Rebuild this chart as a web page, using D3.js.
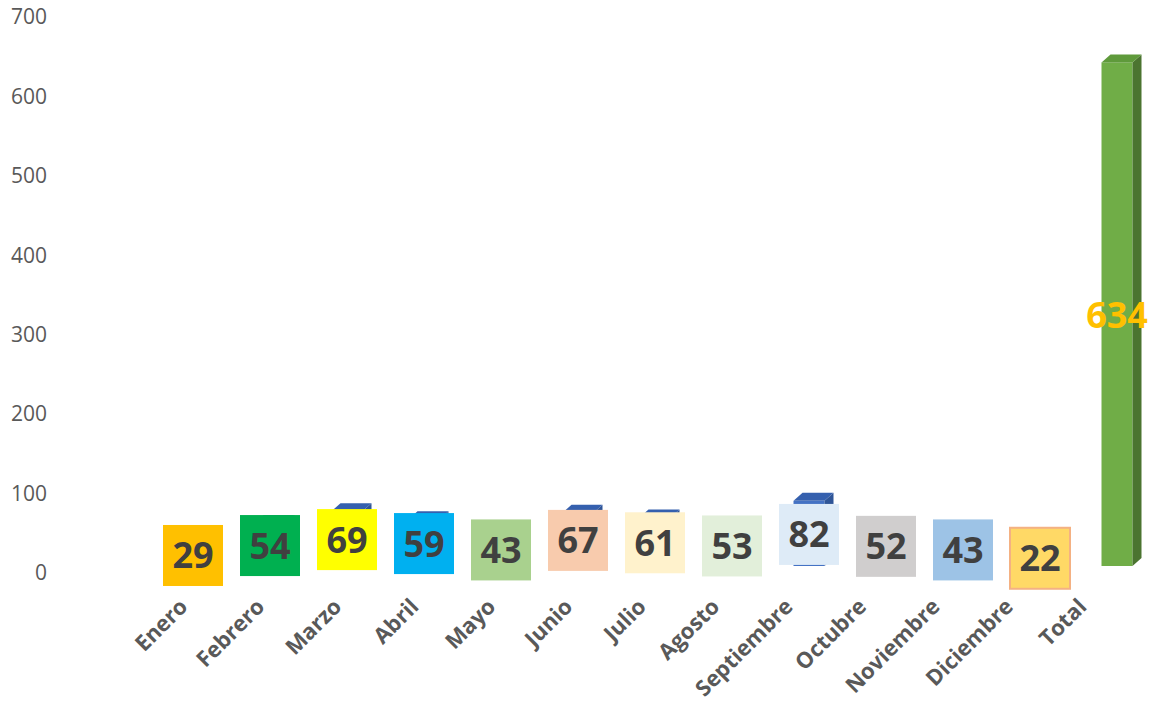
<!DOCTYPE html>
<html>
<head>
<meta charset="utf-8">
<script src="https://cdn.jsdelivr.net/npm/d3@7"></script>
<style>
  html, body { margin: 0; padding: 0; background: #ffffff; }
  svg { display: block; font-family: "Open Sans", "Noto Sans", sans-serif; }
</style>
</head>
<body>
<svg id="chart" width="1151" height="704"></svg>
<script>
// ---- data ----
const categories = ["Enero", "Febrero", "Marzo", "Abril", "Mayo", "Junio", "Julio",
  "Agosto", "Septiembre", "Octubre", "Noviembre", "Diciembre", "Total"];
const values = [29, 54, 69, 59, 43, 67, 61, 53, 82, 52, 43, 22, 634];
const labelFills = ["#FFC000", "#00B050", "#FFFF00", "#00B0F0", "#A9D18E", "#F8CBAD",
  "#FFF2CC", "#E2EFDA", "#DEEBF7", "#D0CECE", "#9DC3E6", "#FFD966", null];
const yTicks = [0, 100, 200, 300, 400, 500, 600, 700];

// ---- layout ----
const svg = d3.select("#chart");
const x = d3.scalePoint().domain(categories).range([193, 1117]);
const y = d3.scaleLinear().domain([0, 700]).range([566, 10]);
const barW = 31, depthX = 9, depthY = 8;
const boxW = 60, boxH = 61;

// category label positions (3D perspective shift)
const labelX = d3.scaleLinear()
  .domain([x(categories[0]), x("Junio"), x(categories[categories.length - 1])])
  .range([189, 574, 1088]);

// ---- y axis ----
const axis = d3.axisLeft(y).tickValues(yTicks).tickSize(0).tickPadding(0);
const gAxis = svg.append("g").attr("transform", "translate(47,7)").call(axis);
gAxis.select(".domain").remove();
gAxis.selectAll("text")
  .attr("fill", "#595959")
  .style("font-size", "21px")
  .style("font-family", "'Open Sans', sans-serif");

// ---- bars ----
const data = categories.map((c, i) => ({ c, v: values[i], fill: labelFills[i], total: c === "Total" }));

const bars = svg.append("g").selectAll("g").data(data).join("g");

bars.each(function (d) {
  const g = d3.select(this);
  const cx = x(d.c), x0 = cx - barW / 2, x1 = cx + barW / 2;
  const yt = y(d.v), yb = y(0);
  const front = d.total ? "#70AD47" : "#4472C4";
  const side = d.total ? "#4B7430" : "#2F5597";
  const top = d.total ? "#5F9A3B" : "#3560AE";
  g.append("rect").attr("x", x0).attr("y", yt).attr("width", barW).attr("height", yb - yt).attr("fill", front);
  g.append("polygon")
    .attr("points", [[x1, yt], [x1 + depthX, yt - depthY], [x1 + depthX, yb - depthY], [x1, yb]].join(" "))
    .attr("fill", side);
  g.append("polygon")
    .attr("points", [[x0, yt], [x0 + depthX, yt - depthY], [x1 + depthX, yt - depthY], [x1, yt]].join(" "))
    .attr("fill", top);
});

// ---- data labels ----
const labels = svg.append("g").selectAll("g").data(data).join("g")
  .attr("transform", d => `translate(${x(d.c)},${(y(0) + y(d.v)) / 2 + 1})`);

labels.filter(d => !d.total).append("rect")
  .attr("x", -boxW / 2).attr("y", -boxH / 2)
  .attr("width", boxW).attr("height", boxH)
  .attr("fill", d => d.fill)
  .attr("stroke", d => d.c === "Diciembre" ? "#F4B183" : "none")
  .attr("stroke-width", 2);

labels.append("text")
  .attr("text-anchor", "middle")
  .attr("dy", "0.36em")
  .attr("fill", d => d.total ? "#FFC000" : "#404040")
  .style("font-size", "36px")
  .style("font-weight", "700")
  .text(d => d.v);

// ---- category labels ----
svg.append("g").selectAll("text").data(data).join("text")
  .attr("transform", d => `translate(${labelX(x(d.c))},608) rotate(-45)`)
  .attr("text-anchor", "end")
  .attr("fill", "#595959")
  .style("font-size", "22px")
  .style("font-weight", "700")
  .text(d => d.c);
</script>
</body>
</html>
